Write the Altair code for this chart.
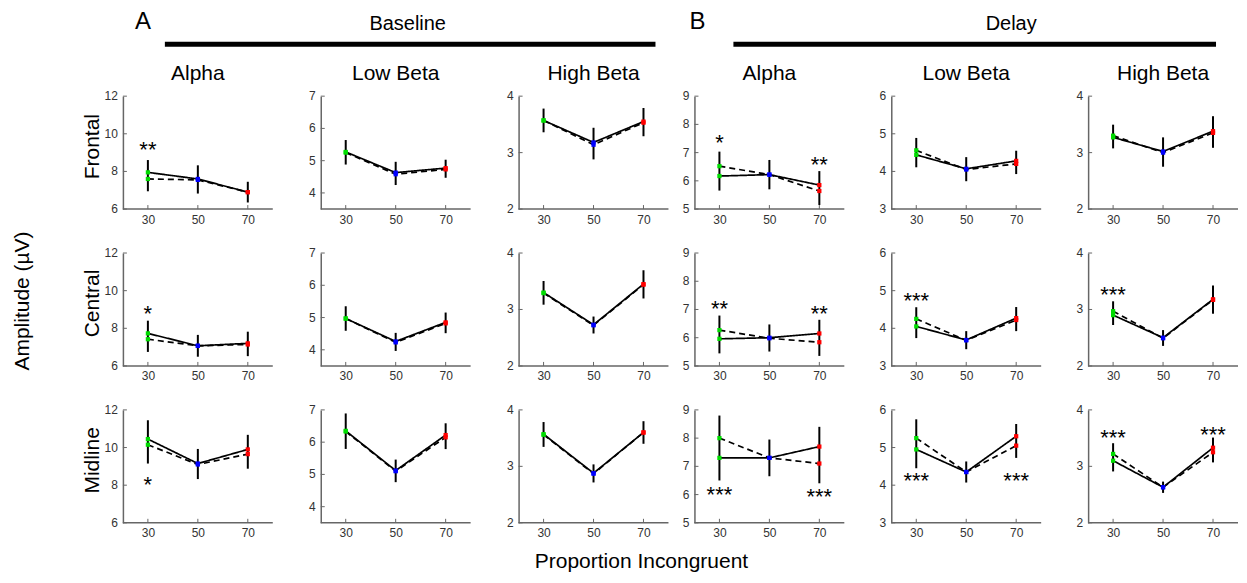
import altair as alt
import pandas as pd

FONT = "Liberation Sans"
AXIS = "#666666"

x_levels = [30, 50, 70]
x_range = [20, 80]
dot_colors = ["#00dd00", "#0000ff", "#ff0000"]
regions = ["Frontal", "Central", "Midline"]
col_titles = ["Alpha", "Low Beta", "High Beta", "Alpha", "Low Beta", "High Beta"]
y_domains = [[6, 12], [3.5, 7], [2, 4], [5, 9], [3, 6], [2, 4]]
y_ticks = [[6, 8, 10, 12], [4, 5, 6, 7], [2, 3, 4], [5, 6, 7, 8, 9], [3, 4, 5, 6], [2, 3, 4]]

# one triplet (30, 50, 70) per column: Baseline Alpha, Low Beta, High Beta, Delay Alpha, Low Beta, High Beta
frontal_solid = [[7.95, 7.6, 6.9], [5.27, 4.63, 4.77], [3.57, 3.18, 3.55], [6.17, 6.22, 5.85], [4.44, 4.07, 4.28], [3.27, 3.02, 3.38]]
frontal_dashed = [[7.6, 7.55, 6.9], [5.25, 4.58, 4.73], [3.57, 3.14, 3.53], [6.52, 6.22, 5.64], [4.56, 4.05, 4.2], [3.3, 3.0, 3.35]]
frontal_err = [[0.83, 0.75, 0.55], [0.38, 0.36, 0.28], [0.21, 0.28, 0.25], [0.69, 0.52, 0.6], [0.39, 0.32, 0.31], [0.21, 0.26, 0.28]]

central_solid = [[7.73, 7.07, 7.2], [4.97, 4.26, 4.85], [3.3, 2.73, 3.45], [5.96, 6.0, 6.15], [4.05, 3.69, 4.27], [2.9, 2.5, 3.18]]
central_dashed = [[7.42, 7.07, 7.14], [4.97, 4.23, 4.82], [3.29, 2.72, 3.44], [6.27, 5.98, 5.84], [4.25, 3.68, 4.22], [2.97, 2.49, 3.17]]
central_err = [[0.83, 0.58, 0.65], [0.38, 0.28, 0.32], [0.21, 0.15, 0.25], [0.67, 0.48, 0.64], [0.41, 0.24, 0.32], [0.21, 0.14, 0.25]]

midline_solid = [[10.45, 9.15, 9.9], [6.35, 5.12, 6.22], [3.57, 2.88, 3.6], [7.3, 7.3, 7.7], [4.95, 4.35, 5.3], [3.1, 2.63, 3.33]]
midline_dashed = [[10.15, 9.1, 9.65], [6.33, 5.1, 6.15], [3.56, 2.87, 3.6], [8.0, 7.3, 7.1], [5.25, 4.35, 5.05], [3.22, 2.63, 3.25]]
midline_err = [[1.15, 0.8, 0.9], [0.55, 0.35, 0.4], [0.22, 0.16, 0.2], [1.15, 0.65, 1.0], [0.65, 0.28, 0.45], [0.25, 0.1, 0.22]]

# significance stars: row index, column index, x, y, text
star_row = [0, 0, 0, 1, 1, 1, 1, 1, 2, 2, 2, 2, 2, 2, 2]
star_col = [0, 3, 3, 0, 3, 3, 4, 5, 0, 3, 3, 4, 4, 5, 5]
star_x = [30, 30, 70, 30, 30, 70, 30, 30, 30, 30, 70, 30, 70, 30, 70]
star_y = [9.4, 7.52, 6.73, 9.02, 7.21, 7.01, 4.85, 3.35, 8.25, 6.15, 6.1, 4.25, 4.25, 3.59, 3.65]
star_txt = ["**", "*", "**", "*", "**", "**", "***", "***", "*", "***", "***", "***", "***", "***", "***"]

solids = [frontal_solid, central_solid, midline_solid]
dasheds = [frontal_dashed, central_dashed, midline_dashed]
errs = [frontal_err, central_err, midline_err]

PX_PER_UNIT = 2.5
H = 113
# panel widths: the extra room on the right of a panel forms the wider gaps between columns
panel_w = [172, 172, 150, 171, 171, 150]


def label(text, x, y, size, angle=0):
    return alt.Chart(pd.DataFrame({"t": [text]})).mark_text(
        fontSize=size, font=FONT, color="black", align="center", baseline="middle", angle=angle
    ).encode(text="t:N", x=alt.value(x), y=alt.value(y))


def hline(x1, x2, y):
    return alt.Chart(pd.DataFrame({"a": [0]})).mark_rule(strokeWidth=5, color="black").encode(
        x=alt.value(x1), x2=alt.value(x2), y=alt.value(y)
    )


def make_panel(ri, ci):
    s = solids[ri][ci]
    d = dasheds[ri][ci]
    e = errs[ri][ci]
    W = panel_w[ci]
    xscale = alt.Scale(domain=[x_range[0], x_range[0] + W / PX_PER_UNIT], nice=False, zero=False)
    yscale = alt.Scale(domain=y_domains[ci], nice=False, zero=False)
    xaxis = alt.Axis(values=x_levels, title=None, grid=False, ticks=False, domain=False,
                     labelFontSize=12, labelColor="#333333", labelPadding=5, labelFont=FONT,
                     format="d", labelOverlap=False)
    yaxis = alt.Axis(values=y_ticks[ci], title=None, grid=False, ticks=False, domainColor=AXIS,
                     domainWidth=1.5, labels=False)
    lines_df = pd.DataFrame({"x": x_levels * 2, "v": s + d,
                             "style": ["solid"] * 3 + ["dashed"] * 3,
                             "lvl": [str(v) for v in x_levels] * 2})
    mid = [(a + b) / 2 for a, b in zip(s, d)]
    err_df = pd.DataFrame({"x": x_levels, "lo": [m - w for m, w in zip(mid, e)],
                           "hi": [m + w for m, w in zip(mid, e)]})
    xt_df = pd.DataFrame({"x": x_levels})
    yt_df = pd.DataFrame({"v": y_ticks[ci]})
    base_df = pd.DataFrame({"x": [x_range[0]], "x2": [x_range[1]]})

    X = alt.X("x:Q", scale=xscale, axis=xaxis)
    Yv = alt.Y("v:Q", scale=yscale, axis=yaxis)
    layers = []
    # bottom axis line from 20 to 80
    layers.append(alt.Chart(base_df).mark_rule(color=AXIS, strokeWidth=1.5).encode(
        x=X, x2="x2:Q", y=alt.value(H)))
    layers.append(alt.Chart(err_df).mark_rule(color="black", strokeWidth=2).encode(
        x=X, y=alt.Y("lo:Q", scale=yscale, axis=yaxis), y2="hi:Q"))
    layers.append(alt.Chart(lines_df).mark_line(color="black", strokeWidth=1.7).encode(
        x=X, y=Yv,
        strokeDash=alt.StrokeDash("style:N", scale=alt.Scale(domain=["solid", "dashed"],
                                                              range=[[1, 0], [6, 4]]), legend=None),
        detail="style:N"))
    layers.append(alt.Chart(lines_df).mark_square(size=18, opacity=1).encode(
        x=X, y=Yv,
        color=alt.Color("lvl:N", scale=alt.Scale(domain=[str(v) for v in x_levels], range=dot_colors),
                        legend=None)))
    # inward ticks
    layers.append(alt.Chart(xt_df).mark_rule(color=AXIS, strokeWidth=1).encode(
        x=X, y=alt.value(H), y2=alt.value(H - 4)))
    layers.append(alt.Chart(yt_df).mark_rule(color=AXIS, strokeWidth=1).encode(
        y=Yv, x=alt.value(0), x2=alt.value(4)))
    # y tick labels
    layers.append(alt.Chart(yt_df).mark_text(align="right", baseline="middle", fontSize=12,
                                             font=FONT, color="#333333").encode(
        y=Yv, x=alt.value(-5), text=alt.Text("v:Q", format="d")))

    st = [(x, y, t) for r, c, x, y, t in zip(star_row, star_col, star_x, star_y, star_txt)
          if r == ri and c == ci]
    if st:
        st_df = pd.DataFrame({"x": [a for a, _, _ in st], "v": [b for _, b, _ in st],
                              "t": [c for _, _, c in st]})
        layers.append(alt.Chart(st_df).mark_text(fontSize=22, font=FONT, color="black", dy=5,
                                                 align="center", baseline="middle").encode(
            x=X, y=Yv, text="t:N"))

    if ri == 0:
        layers.append(label(col_titles[ci], 75, -22, 21))
        if ci == 0:
            layers.append(label("A", 20, -74, 24))
            layers.append(label("Baseline", 285, -72, 20))
            layers.append(hline(42, 533, -52))
        if ci == 3:
            layers.append(label("B", 3, -74, 24))
            layers.append(label("Delay", 317, -72, 20))
            layers.append(hline(39, 522, -52))
    if ci == 0:
        layers.append(label(regions[ri], -30, H / 2 - 6, 21, angle=270))
        if ri == 1:
            layers.append(label("Amplitude (\u00b5V)", -100, 48, 21, angle=270))
    if ri == 2 and ci == 2:
        layers.append(label("Proportion Incongruent", 123, 152, 21))

    return alt.layer(*layers).properties(width=W, height=H)


panels = [make_panel(ri, ci) for ri in range(3) for ci in range(6)]

chart = alt.concat(*panels, columns=6, spacing={"row": 44, "column": 26}, bounds="flush").properties(
    padding={"left": 4, "top": 2, "right": 0, "bottom": 0}
).configure(font=FONT).configure_view(stroke=None)

chart.save("out.html", embed_options={"renderer": "svg", "actions": False})
